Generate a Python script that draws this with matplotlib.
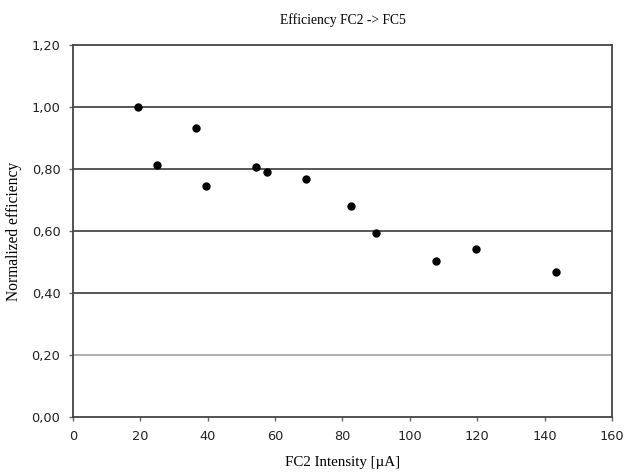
import matplotlib
matplotlib.use("Agg")
import matplotlib.pyplot as plt
from matplotlib.ticker import FuncFormatter

# data
intensity = [19.3, 24.9, 36.5, 39.5, 54.3, 57.6, 69.1, 82.5, 89.9, 107.7, 119.6, 143.3]
efficiency = [1.00, 0.813, 0.932, 0.745, 0.806, 0.790, 0.768, 0.681, 0.594, 0.503, 0.542, 0.468]

x_ticks = [0, 20, 40, 60, 80, 100, 120, 140, 160]
y_ticks = [0.0, 0.2, 0.4, 0.6, 0.8, 1.0, 1.2]

fig = plt.figure(figsize=(6.25, 4.72), dpi=100)
ax = fig.add_axes([0.1168, 0.1165, 0.8622, 0.7882])

# horizontal grid: 0,20 lighter than the rest
for y in y_ticks[1:-1]:
    color = "#a8a8a8" if y == 0.2 else "#4a4a4a"
    ax.axhline(y, color=color, lw=1.3, zorder=1)

ax.plot(intensity, efficiency, linestyle="none", marker="o", ms=5,
        color="black", zorder=3)

ax.set_xlim(0, 160)
ax.set_ylim(0, 1.2)
ax.set_xticks(x_ticks)
ax.set_yticks(y_ticks)
ax.yaxis.set_major_formatter(FuncFormatter(lambda v, p: f"{v:.2f}".replace(".", ",")))

for s in ax.spines.values():
    s.set_color("#444444")
    s.set_linewidth(1.3)
ax.tick_params(direction="out", length=3, width=1, color="#666666",
               labelsize=9.3, labelcolor="#222222", pad=6)

serif = "Liberation Serif"
ax.set_title("Efficiency FC2 -> FC5", fontname=serif, fontsize=9.8, pad=15)
ax.set_xlabel("FC2 Intensity [\u00b5A]", fontname=serif, fontsize=10.8, labelpad=10)
ax.set_ylabel("Normalized efficiency", fontname=serif, fontsize=11.2, labelpad=7)

fig.savefig("out.png", dpi=100)
